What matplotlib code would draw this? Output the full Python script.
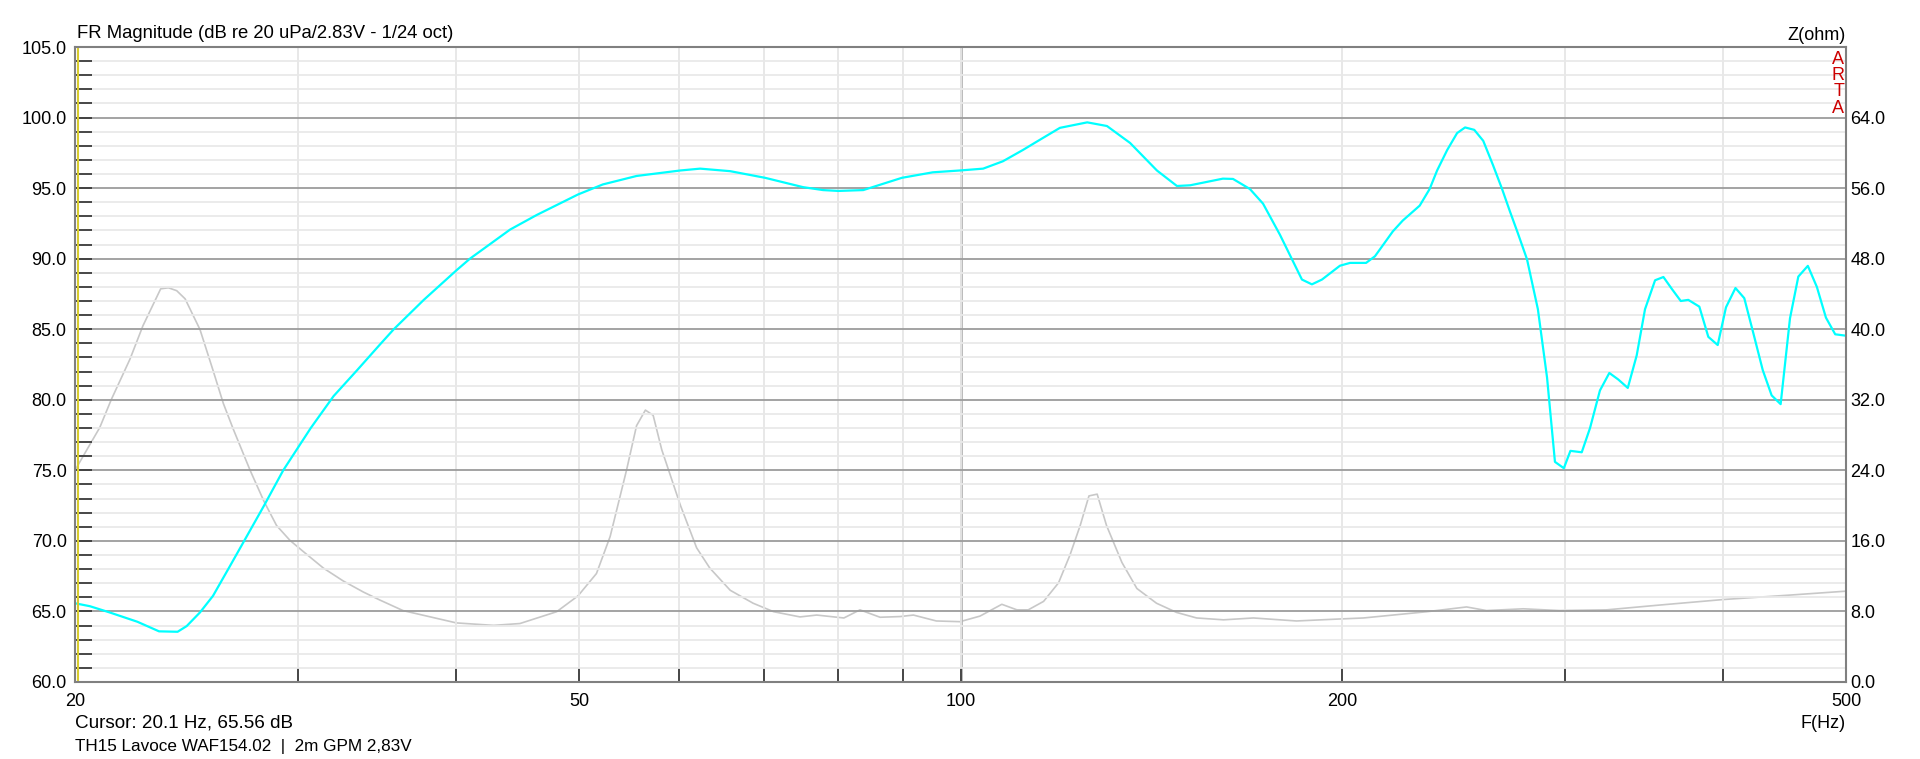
import numpy as np
import matplotlib
matplotlib.use("Agg")
import matplotlib.pyplot as plt
from matplotlib.ticker import FixedLocator, NullFormatter

plt.rcParams['font.family'] = ['Liberation Sans', 'DejaVu Sans']

# SPL magnitude, dB re 20 uPa / 2.83 V (cyan)
spl_freq = [20.0, 20.55, 21.3, 22.4, 23.3, 24.1, 24.5, 25.1, 25.7, 26.5, 27.2, 28.2,
            29.2, 30.7, 32.0, 33.4, 34.8, 35.7, 37.7, 40.0, 41.0, 44.1, 46.3, 49.9,
            52.2, 55.5, 60.1, 62.3, 65.8, 70.1, 75.1, 77.9, 80.1, 83.8, 89.9, 95.1,
            99.9, 104.2, 108.0, 112.0, 114.9, 119.8, 125.9, 130.5, 136.1, 142.9, 148.2,
            151.8, 161.1, 164.1, 169.2, 173.3, 178.7, 186.0, 189.4, 192.9, 199.3, 203.0,
            209.0, 212.4, 219.4, 223.4, 230.4, 234.6, 237.8, 242.2, 246.6, 250.2, 254.4,
            258.6, 263.2, 267.6, 271.4, 275.4, 280.0, 285.6, 290.4, 294.6, 299.4, 303.0,
            309.3, 314.0, 319.7, 325.2, 330.5, 336.3, 341.8, 347.0, 353.4, 358.8, 364.3,
            370.3, 375.4, 383.0, 389.3, 396.0, 402.0, 409.0, 415.6, 422.5, 429.8, 436.8,
            444.0, 451.6, 458.5, 466.5, 474.2, 482.1, 490.3, 500.0]
spl_db = [65.58, 65.37, 64.93, 64.27, 63.59, 63.56, 63.96, 64.93, 66.1, 68.2, 70.0, 72.5,
          75.0, 78.0, 80.26, 82.1, 83.9, 85.0, 87.08, 89.17, 90.0, 92.06, 93.1, 94.55,
          95.26, 95.86, 96.25, 96.38, 96.2, 95.73, 95.07, 94.86, 94.8, 94.86, 95.73, 96.12,
          96.25, 96.38, 96.9, 97.7, 98.3, 99.27, 99.66, 99.4, 98.2, 96.25, 95.15,
          95.2, 95.67, 95.65, 94.94, 93.9, 91.7, 88.52, 88.18, 88.52, 89.5, 89.7,
          89.7, 90.17, 91.93, 92.7, 93.76, 94.94, 96.25, 97.7, 98.9, 99.3, 99.13,
          98.35, 96.64, 94.94, 93.37, 91.8, 89.96, 86.42, 81.57, 75.6, 75.15, 76.38,
          76.28, 78.0, 80.66, 81.9, 81.44, 80.84, 83.15, 86.42, 88.47, 88.7, 87.86,
          87.0, 87.08, 86.6, 84.46, 83.88, 86.55, 87.92, 87.2, 84.72, 82.1, 80.31,
          79.69, 85.77, 88.73, 89.49, 88.0, 85.82, 84.64, 84.54]

# impedance magnitude, ohm (grey)
z_freq = [20.0, 20.43, 20.92, 21.36, 22.1, 22.63, 23.37, 23.7, 24.06, 24.43, 25.1, 25.7,
          26.19, 26.67, 27.49, 28.2, 28.85, 29.56, 30.28, 31.41, 32.57, 33.78, 34.8, 36.3,
          40.0, 42.8, 44.9, 48.0, 49.9, 51.6, 52.9, 54.5, 55.5, 56.4, 57.2, 58.1,
          60.1, 61.9, 63.4, 65.8, 68.6, 71.2, 74.7, 77.0, 80.9, 83.3, 86.4, 89.6,
          91.8, 95.7, 99.9, 103.6, 107.8, 110.8, 113.1, 116.3, 119.5, 122.0, 124.3, 126.3,
          128.2, 130.4, 134.1, 137.8, 142.8, 148.1, 153.6, 161.3, 170.3, 178.7, 184.2, 198.1,
          208.0, 233.4, 250.9, 260.1, 278.1, 297.0, 323.6, 356.0, 400.0, 451.0, 500.0]
z_ohm = [24.0, 26.3, 28.85, 32.0, 36.6, 40.4, 44.58, 44.7, 44.37, 43.45, 39.97, 35.36,
         31.58, 28.65, 24.03, 20.47, 17.74, 16.06, 14.8, 12.92, 11.45, 10.2, 9.3, 8.1,
         6.7, 6.42, 6.63, 7.97, 9.77, 12.3, 16.5, 24.03, 29.06, 30.83, 30.24, 26.34,
         20.05, 15.22, 12.92, 10.4, 8.93, 7.97, 7.38, 7.59, 7.26, 8.18, 7.34, 7.42,
         7.59, 6.92, 6.84, 7.47, 8.81, 8.18, 8.18, 9.14, 11.24, 14.38, 17.74, 21.1,
         21.3, 17.74, 13.55, 10.6, 8.93, 7.89, 7.26, 7.05, 7.26, 7.05, 6.92, 7.13,
         7.26, 7.97, 8.51, 8.1, 8.3, 8.1, 8.18, 8.72, 9.35, 9.85, 10.3]

cursor_freq = 20.1
x_major = [20, 50, 100, 200, 500]
x_minor = [30, 40, 60, 70, 80, 90, 300, 400]
db_major = np.arange(60, 106, 5)
db_minor = np.arange(60, 106, 1)
z_ticks = np.arange(0, 65, 8)

FS = 13
W, H = 1920, 759
fig = plt.figure(figsize=(W / 100, H / 100), dpi=100)
ax = fig.add_axes([75 / W, 77 / H, 1771 / W, 635 / H])
axz = ax.twinx()
ax.set_zorder(axz.get_zorder() + 1)
ax.patch.set_visible(False)
axz.patch.set_visible(True)
axz.patch.set_facecolor('white')

# impedance on the right scale
axz.plot(z_freq, z_ohm, color='#c8c8c8', lw=1.2)
axz.set_ylim(0, 72)
axz.set_yticks(z_ticks)
axz.set_yticklabels([f'{v:.1f}' for v in z_ticks])
axz.tick_params(axis='y', length=0, pad=3, labelsize=FS, colors='black')
for s in axz.spines.values():
    s.set_visible(False)

# SPL
ax.plot(spl_freq, spl_db, color='#00ffff', lw=1.6)
ax.axvline(cursor_freq, color='#d8cc30', lw=1.5)
ax.axvline(100, color='#b4b4b4', lw=2.0, zorder=0.5)

ax.set_xscale('log')
ax.set_xlim(20, 500)
ax.set_ylim(60, 105)
ax.xaxis.set_major_locator(FixedLocator(x_major))
ax.xaxis.set_minor_locator(FixedLocator(x_minor))
ax.set_xticklabels([str(v) for v in x_major])
ax.xaxis.set_minor_formatter(NullFormatter())
ax.yaxis.set_major_locator(FixedLocator(db_major))
ax.yaxis.set_minor_locator(FixedLocator(db_minor))
ax.set_yticklabels([f'{v:.1f}' for v in db_major])

ax.grid(which='minor', axis='y', color='#e9e9e9', lw=1.3)
ax.grid(which='major', axis='y', color='#9c9c9c', lw=1.3)
ax.grid(which='both', axis='x', color='#e6e6e6', lw=1.3)
ax.set_axisbelow(True)

ax.tick_params(axis='y', which='both', direction='in', length=12, width=1.3,
               color='#3a3a3a', labelsize=FS, pad=6)
ax.tick_params(axis='x', which='both', direction='in', length=10, width=1.3,
               color='#3a3a3a', labelsize=FS, pad=8)
for s in ax.spines.values():
    s.set_color('#808080')
    s.set_linewidth(1.5)

# texts
fig.text(77 / W, 1 - 33 / H, 'FR Magnitude (dB re 20 uPa/2.83V - 1/24 oct)',
         ha='left', va='center', fontsize=13.3)
fig.text(1846 / W, 1 - 36 / H, 'Z(ohm)', ha='right', va='center', fontsize=FS)
for i, ch in enumerate('ARTA'):
    ax.text(0.9989, 1 - (12 + 16.5 * i) / 635, ch, transform=ax.transAxes,
            ha='right', va='center', color='#cc0000', fontsize=FS)
fig.text(1846 / W, 1 - 724 / H, 'F(Hz)', ha='right', va='center', fontsize=FS)
fig.text(75 / W, 1 - 723 / H, 'Cursor: 20.1 Hz, 65.56 dB', ha='left', va='center',
         fontsize=13.6)
fig.text(75 / W, 1 - 747 / H, 'TH15 Lavoce WAF154.02  |  2m GPM 2,83V',
         ha='left', va='center', fontsize=12.3)

fig.savefig('out.png', dpi=100, facecolor='white')
